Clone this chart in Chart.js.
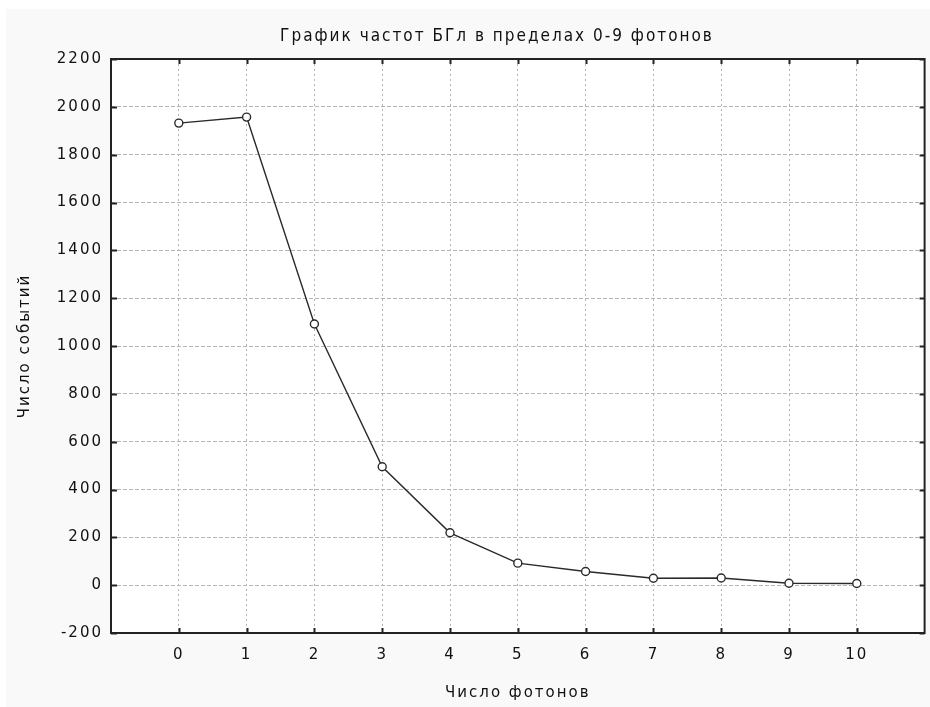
<!DOCTYPE html>
<html>
<head>
<meta charset="utf-8">
<script src="https://cdn.jsdelivr.net/npm/chart.js"></script>
<style>
  html, body { margin: 0; padding: 0; background: #ffffff; }
  #wrap { width: 930px; height: 707px; }
</style>
</head>
<body>
<div id="wrap"><canvas id="freqChart" width="930" height="707"></canvas></div>
<script>
// данные графика
const photons = [0, 1, 2, 3, 4, 5, 6, 7, 8, 9, 10];
const events = [1932, 1957, 1092, 495, 219, 92, 57, 29, 30, 8, 7];
const yTicks = [-200, 0, 200, 400, 600, 800, 1000, 1200, 1400, 1600, 1800, 2000, 2200];
const chartTitle = 'График частот БГл в пределах 0-9 фотонов';

const tickFont = { family: "'DejaVu Sans', Arial, sans-serif", size: 15 };

// фон, заголовок, рамка и внутренние засечки
const framePlugin = {
    id: 'frame',
    beforeDraw(chart) {
        const ctx = chart.ctx;
        const a = chart.chartArea;
        ctx.letterSpacing = '2px';
        ctx.save();
        ctx.fillStyle = '#ffffff';
        ctx.fillRect(0, 0, chart.width, chart.height);
        ctx.fillStyle = '#f9f9f9';
        ctx.fillRect(6, 9, chart.width - 6, chart.height - 9);
        ctx.fillStyle = '#ffffff';
        ctx.fillRect(a.left, a.top, a.right - a.left, a.bottom - a.top);
        ctx.fillStyle = '#111111';
        ctx.font = "17px 'DejaVu Sans Condensed', 'DejaVu Sans', sans-serif";
        ctx.textAlign = 'center';
        ctx.textBaseline = 'middle';
        ctx.fillText(chartTitle, 497, 37);
        ctx.restore();
    },
    afterDatasetsDraw(chart) {
        const ctx = chart.ctx;
        const a = chart.chartArea;
        const x = chart.scales.x;
        const y = chart.scales.y;
        ctx.save();
        ctx.strokeStyle = '#222222';
        ctx.lineWidth = 2;
        ctx.beginPath();
        photons.forEach(v => {
            const px = Math.round(x.getPixelForValue(v)) + 0.5;
            ctx.moveTo(px, a.bottom); ctx.lineTo(px, a.bottom - 5);
            ctx.moveTo(px, a.top); ctx.lineTo(px, a.top + 5);
        });
        yTicks.forEach(v => {
            const py = Math.round(y.getPixelForValue(v)) + 0.5;
            ctx.moveTo(a.left, py); ctx.lineTo(a.left + 6, py);
            ctx.moveTo(a.right, py); ctx.lineTo(a.right - 5, py);
        });
        ctx.stroke();
        ctx.strokeRect(a.left, a.top, a.right - a.left, a.bottom - a.top);
        ctx.restore();
    }
};

new Chart(document.getElementById('freqChart').getContext('2d'), {
    type: 'line',
    data: {
        datasets: [{
            label: 'Число событий',
            data: photons.map((p, i) => ({ x: p, y: events[i] })),
            borderColor: '#2a2a2a',
            borderWidth: 1.4,
            pointRadius: 4,
            pointBorderWidth: 1.4,
            pointBackgroundColor: '#ffffff',
            pointBorderColor: '#2a2a2a',
            tension: 0,
            fill: false
        }]
    },
    options: {
        responsive: false,
        animation: false,
        devicePixelRatio: 1,
        layout: { padding: { left: 16, right: 2, top: 59, bottom: 5 } },
        scales: {
            x: {
                type: 'linear',
                min: -1,
                max: 11,
                afterFit(s) { s.height = 69; },
                afterBuildTicks(s) { s.ticks = photons.map(v => ({ value: v })); },
                ticks: {
                    color: '#111111',
                    font: tickFont,
                    padding: 13,
                    maxRotation: 0,
                    callback: v => String(v)
                },
                grid: {
                    color: '#b5b5b5',
                    lineWidth: 1,
                    drawTicks: false,
                    borderDash: [2, 3]
                },
                border: { display: false, dash: [2, 3] },
                title: {
                    display: true,
                    text: 'Число фотонов',
                    color: '#111111',
                    font: { family: "'DejaVu Sans', Arial, sans-serif", size: 15 },
                    padding: { top: 0, bottom: 0 }
                }
            },
            y: {
                type: 'linear',
                min: -200,
                max: 2200,
                afterFit(s) { s.width = 95; },
                afterBuildTicks(s) { s.ticks = yTicks.map(v => ({ value: v })); },
                ticks: {
                    color: '#111111',
                    font: tickFont,
                    padding: 8,
                    callback: v => String(v)
                },
                grid: {
                    color: '#b5b5b5',
                    lineWidth: 1,
                    drawTicks: false,
                    borderDash: [4, 2]
                },
                border: { display: false, dash: [4, 2] },
                title: {
                    display: true,
                    text: 'Число событий',
                    color: '#111111',
                    font: { family: "'DejaVu Sans', Arial, sans-serif", size: 15 },
                    padding: { top: 0, bottom: 0 }
                }
            }
        },
        plugins: {
            legend: { display: false },
            tooltip: { enabled: false },
            title: { display: false }
        }
    },
    plugins: [framePlugin]
});
</script>
</body>
</html>
